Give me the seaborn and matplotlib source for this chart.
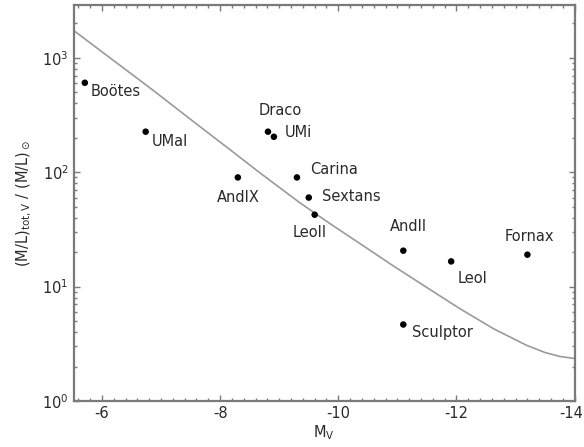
import numpy as np
import pandas as pd
import matplotlib
matplotlib.use("Agg")
import matplotlib.pyplot as plt
import matplotlib.transforms as mtransforms
from matplotlib.ticker import LogLocator, MultipleLocator, FixedLocator
import seaborn as sns

# Dwarf spheroidal galaxies: absolute V magnitude and total mass-to-light ratio
galaxies = ["Boötes", "UMaI", "Draco", "UMi", "AndIX", "Carina",
            "Sextans", "LeoII", "AndII", "LeoI", "Fornax", "Sculptor"]
mv = [-5.71, -6.74, -8.81, -8.91, -8.30, -9.30,
      -9.50, -9.60, -11.10, -11.91, -13.20, -11.10]
ml = [605, 226, 226, 204, 90, 90,
      60, 42.5, 20.6, 16.6, 19.0, 4.66]

# Model curve for a common dark-matter mass
curve_mv = [-5.53, -6.135, -6.81, -7.66, -8.17, -8.67, -9.35, -9.86, -10.37,
            -10.92, -11.50, -12.06, -12.62, -13.19, -13.50, -13.75, -14.0]
curve_ml = [1720, 1000, 547, 250, 157, 99, 54, 35.5, 23.7,
            15.3, 9.8, 6.4, 4.3, 3.06, 2.65, 2.45, 2.35]

x_ticks = [-6, -8, -10, -12, -14]
x_ticklabels = ["-6", "-8", "-10", "-12", "-14"]

# label offsets in points (dx, dy) and alignment
label_pos = {
    "Boötes":   (4, -6.5, "left"),
    "UMaI":     (4.5, -7, "left"),
    "Draco":    (8.5, 15, "center"),
    "UMi":      (8, 3, "left"),
    "AndIX":    (0, -14.5, "center"),
    "Carina":   (9.5, 6, "left"),
    "Sextans":  (9.5, 0.5, "left"),
    "LeoII":    (-3.5, -12.5, "center"),
    "AndII":    (4, 17.5, "center"),
    "LeoI":     (4.5, -12.5, "left"),
    "Fornax":   (1.5, 13, "center"),
    "Sculptor": (6, -6, "left"),
}

pts = pd.DataFrame({"galaxy": galaxies, "MV": mv, "ML": ml})
model = pd.DataFrame({"MV": curve_mv, "ML": curve_ml})

sns.set_theme(style="ticks")
plt.rcParams["font.family"] = ["DejaVu Sans"]
text_color = "#2a2a2a"
frame_color = "#7a7a7a"

fig = plt.figure(figsize=(5.84, 4.47), dpi=100)
ax = fig.add_axes([0.126, 0.103, 0.858, 0.886])

sns.lineplot(data=model, x="MV", y="ML", ax=ax, color="#9a9a9a",
             linewidth=1.2, sort=False, estimator=None)
sns.scatterplot(data=pts, x="MV", y="ML", ax=ax, color="black",
                s=22, edgecolor="none", zorder=3)

for g, x, y in zip(galaxies, mv, ml):
    dx, dy, ha = label_pos[g]
    ax.annotate(g, (x, y), xytext=(dx, dy), textcoords="offset points",
                ha=ha, va="center", fontsize=10.5, color=text_color)

ax.set_yscale("log")
ax.set_xlim(-5.52, -14.0)
ax.set_ylim(1, 2900)

ax.xaxis.set_major_locator(FixedLocator(x_ticks))
ax.xaxis.set_minor_locator(MultipleLocator(0.2))
ax.set_xticklabels(x_ticklabels)
ax.yaxis.set_major_locator(LogLocator(base=10, numticks=10))
ax.yaxis.set_minor_locator(LogLocator(base=10, subs=np.arange(2, 10), numticks=10))

ax.tick_params(which="both", direction="in", top=True, right=True,
               color=frame_color, labelsize=10.5, labelcolor=text_color)
ax.tick_params(which="major", length=4, width=1)
ax.tick_params(which="minor", length=2.5, width=1)
for sp in ax.spines.values():
    sp.set_color(frame_color)
    sp.set_linewidth(1.6)

# keep the last tick label inside the figure edge
last = ax.get_xticklabels()[-1]
last.set_horizontalalignment("right")
last.set_transform(last.get_transform() +
                   mtransforms.ScaledTranslation(8 / 100, 0, fig.dpi_scale_trans))

ax.set_xlabel("M$_\\mathregular{V}$", fontsize=10.5, color=text_color, labelpad=2)
ax.set_ylabel("(M/L)$_\\mathregular{tot,V}$ / (M/L)$_\\odot$", fontsize=10.5,
              color=text_color, labelpad=6)

fig.savefig("out.png", dpi=100)
